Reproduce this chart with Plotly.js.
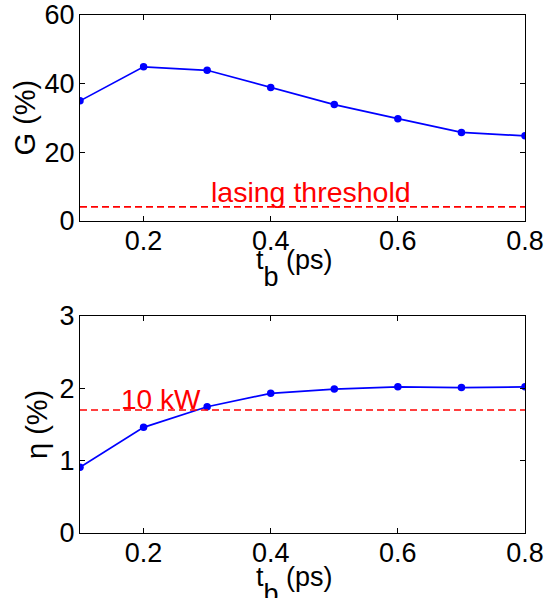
<!DOCTYPE html>
<html><head><meta charset="utf-8">
<script src="https://cdn.plot.ly/plotly-3.0.1.min.js"></script>
<style>body{margin:0;padding:0;background:#fff}#chart{width:546px;height:598px}</style>
</head><body><div id="chart"></div>
<script>
const tb = [0.1, 0.2, 0.3, 0.4, 0.5, 0.6, 0.7, 0.8];
const gain = [35.0, 44.9, 43.9, 38.9, 33.9, 29.8, 25.8, 24.8];
const eta = [0.91, 1.46, 1.745, 1.93, 1.99, 2.02, 2.01, 2.02];
const lasingThreshold = 4.1;
const powerLevel10kW = 1.70;
const xTicks = [0.2, 0.4, 0.6, 0.8];
const xTickText = ['0.2', '0.4', '0.6', '0.8'];
const gTicks = [0, 20, 40, 60];
const etaTicks = [0, 1, 2, 3];
const xTitleText = 't<span style="baseline-shift:-17px">b</span> (ps)';
const gTitleText = 'G (%)';
const etaTitleText = 'η (%)';

const FONT = 'Liberation Sans, Arial, Helvetica, sans-serif';
const blue = '#0000ff', red = '#ff0000';

const traces = [
  {x: tb, y: gain, xaxis: 'x', yaxis: 'y', mode: 'lines+markers',
   line: {color: blue, width: 1.7}, marker: {color: blue, size: 7.5}, showlegend: false},
  {x: [tb[0], tb[tb.length-1]], y: [lasingThreshold, lasingThreshold], xaxis: 'x', yaxis: 'y', mode: 'lines',
   line: {color: red, width: 1.7, dash: '7px,4px'}, showlegend: false},
  {x: tb, y: eta, xaxis: 'x2', yaxis: 'y2', mode: 'lines+markers',
   line: {color: blue, width: 1.7}, marker: {color: blue, size: 7.5}, showlegend: false},
  {x: [tb[0], tb[tb.length-1]], y: [powerLevel10kW, powerLevel10kW], xaxis: 'x2', yaxis: 'y2', mode: 'lines',
   line: {color: red, width: 1.7, dash: '7px,4px'}, showlegend: false}
];

const axBase = {showline: true, linecolor: '#000', linewidth: 1, mirror: 'ticks', ticks: 'inside',
  ticklen: 5, tickcolor: '#000', showgrid: false, zeroline: false,
  tickfont: {family: FONT, size: 27, color: '#000'}};

const layout = {
  width: 546, height: 598,
  margin: {l: 80, r: 21, t: 15, b: 65},
  paper_bgcolor: '#fff', plot_bgcolor: '#fff',
  font: {family: FONT, color: '#000'},
  xaxis: Object.assign({}, axBase, {domain: [0, 1], range: [0.1, 0.8], tickvals: xTicks, ticktext: xTickText,
    anchor: 'y', ticklabelstandoff: -4}),
  yaxis: Object.assign({}, axBase, {domain: [0.6023, 1], range: [0, 60], tickvals: gTicks, anchor: 'x',
    ticklabelstandoff: -1}),
  xaxis2: Object.assign({}, axBase, {domain: [0, 1], range: [0.1, 0.8], tickvals: xTicks, ticktext: xTickText,
    anchor: 'y2', ticklabelstandoff: -4}),
  yaxis2: Object.assign({}, axBase, {domain: [0, 0.419], range: [0, 3], tickvals: etaTicks, anchor: 'x2',
    ticklabelstandoff: -1}),
  annotations: [
    {text: 'lasing threshold', xref: 'x', yref: 'y', x: 0.4626, y: lasingThreshold, yanchor: 'bottom',
     showarrow: false, yshift: -3, font: {family: FONT, size: 28.5, color: red}},
    {text: '10 kW', xref: 'x2', yref: 'y2', x: 0.2274, y: powerLevel10kW, yanchor: 'bottom',
     showarrow: false, yshift: -7, font: {family: FONT, size: 28, color: red}},
    {text: xTitleText, xref: 'paper', yref: 'paper', x: 0.4831, y: 0.5598, xanchor: 'center', yanchor: 'top',
     showarrow: false, font: {family: FONT, size: 27, color: '#000'}},
    {text: xTitleText, xref: 'paper', yref: 'paper', x: 0.4831, y: -0.0521, xanchor: 'center', yanchor: 'top',
     showarrow: false, font: {family: FONT, size: 27, color: '#000'}},
    {text: gTitleText, xref: 'paper', yref: 'paper', x: -0.1247, y: 0.8012, xanchor: 'center', yanchor: 'middle',
     textangle: -90, showarrow: false, font: {family: FONT, size: 29, color: '#000'}},
    {text: etaTitleText, xref: 'paper', yref: 'paper', x: -0.0966, y: 0.2085, xanchor: 'center', yanchor: 'middle',
     textangle: -90, showarrow: false, font: {family: FONT, size: 29, color: '#000'}}
  ]
};

Plotly.newPlot('chart', traces, layout, {staticPlot: true, displayModeBar: false});
</script>
</body></html>
